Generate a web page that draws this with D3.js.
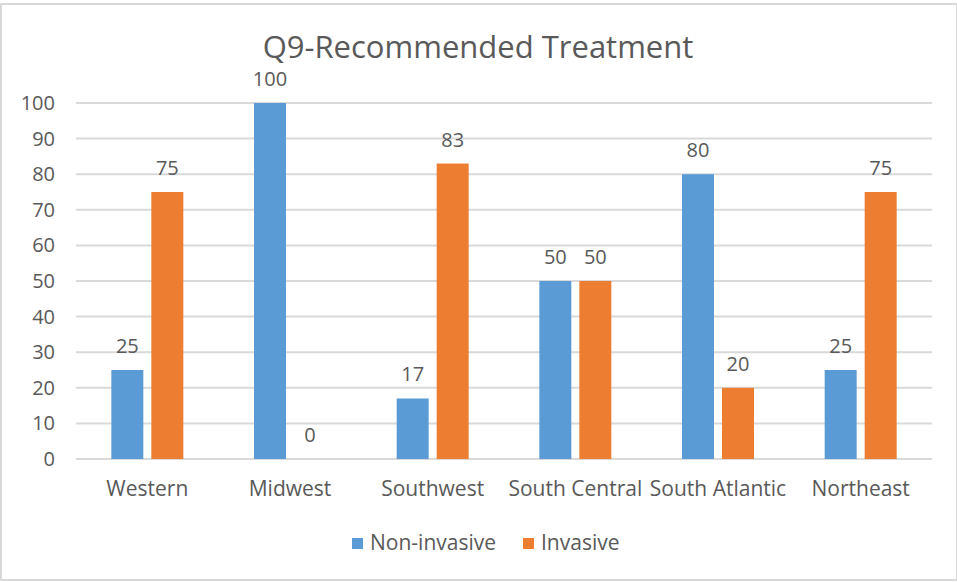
<!DOCTYPE html>
<html lang="en">
<head>
<meta charset="utf-8">
<title>Q9-Recommended Treatment</title>
<script src="https://cdnjs.cloudflare.com/ajax/libs/d3/7.8.5/d3.min.js"></script>
<style>
  body { margin: 0; background: #fff; }
  text { font-family: "Open Sans", "Noto Sans", sans-serif; fill: #595959; }
</style>
</head>
<body>
<div id="chart"></div>
<script>
// data
var regions = ["Western", "Midwest", "Southwest", "South Central", "South Atlantic", "Northeast"];
var nonInvasive = [25, 100, 17, 50, 80, 25];
var invasive = [75, 0, 83, 50, 20, 75];
var seriesNames = ["Non-invasive", "Invasive"];
var yTicks = [0, 10, 20, 30, 40, 50, 60, 70, 80, 90, 100];

var colors = ["#5b9bd5", "#ed7d31"];
var width = 957, height = 582;
var plotLeft = 76, plotRight = 932, plotTop = 103, plotBottom = 459;

var svg = d3.select("#chart").append("svg")
    .attr("width", width)
    .attr("height", height);

// outer frame
svg.append("rect")
    .attr("x", 1).attr("y", 4)
    .attr("width", 956).attr("height", 576)
    .attr("fill", "#fff")
    .attr("stroke", "#d9d9d9")
    .attr("stroke-width", 2);

var x = d3.scaleBand().domain(regions).range([plotLeft, plotRight]);
var y = d3.scaleLinear().domain([0, 100]).range([plotBottom, plotTop]);

// gridlines
svg.append("g")
    .selectAll("line")
    .data(yTicks)
    .enter().append("line")
    .attr("x1", plotLeft).attr("x2", plotRight)
    .attr("y1", function(d) { return y(d); })
    .attr("y2", function(d) { return y(d); })
    .attr("stroke", "#d9d9d9")
    .attr("stroke-width", 2);

// y axis labels
var yAxis = d3.axisLeft(y).tickValues(yTicks).tickSize(0).tickPadding(0);
var gy = svg.append("g")
    .attr("transform", "translate(55,0)")
    .call(yAxis);
gy.select(".domain").remove();
gy.selectAll("text").style("font-size", "20px").attr("fill", "#595959");

// x axis labels
var xAxis = d3.axisBottom(x).tickSize(0).tickPadding(0);
var gx = svg.append("g")
    .attr("transform", "translate(0," + (plotBottom + 22) + ")")
    .call(xAxis);
gx.select(".domain").remove();
gx.selectAll("text").style("font-size", "21px").attr("fill", "#595959");

// bars
var barW = 32, gap = 8;
var series = [nonInvasive, invasive];
var offsets = [-(gap / 2 + barW), gap / 2];

series.forEach(function(vals, s) {
    var g = svg.append("g");
    g.selectAll("rect")
        .data(vals)
        .enter().append("rect")
        .attr("x", function(d, i) { return x(regions[i]) + x.bandwidth() / 2 + offsets[s]; })
        .attr("y", function(d) { return y(d); })
        .attr("width", barW)
        .attr("height", function(d) { return y(0) - y(d); })
        .attr("fill", colors[s]);
    g.selectAll("text")
        .data(vals)
        .enter().append("text")
        .attr("x", function(d, i) { return x(regions[i]) + x.bandwidth() / 2 + offsets[s] + barW / 2; })
        .attr("y", function(d) { return y(d) - 17; })
        .attr("text-anchor", "middle")
        .style("font-size", "20px")
        .text(function(d) { return d; });
});

// title
svg.append("text")
    .attr("x", 478)
    .attr("y", 58)
    .attr("text-anchor", "middle")
    .style("font-size", "31px")
    .text("Q9-Recommended Treatment");

// legend
var legendX = [352, 523];
seriesNames.forEach(function(name, i) {
    svg.append("rect")
        .attr("x", legendX[i]).attr("y", 538)
        .attr("width", 11).attr("height", 11)
        .attr("fill", colors[i]);
    svg.append("text")
        .attr("x", legendX[i] + 18)
        .attr("y", 550)
        .style("font-size", "21px")
        .text(name);
});
</script>
</body>
</html>
